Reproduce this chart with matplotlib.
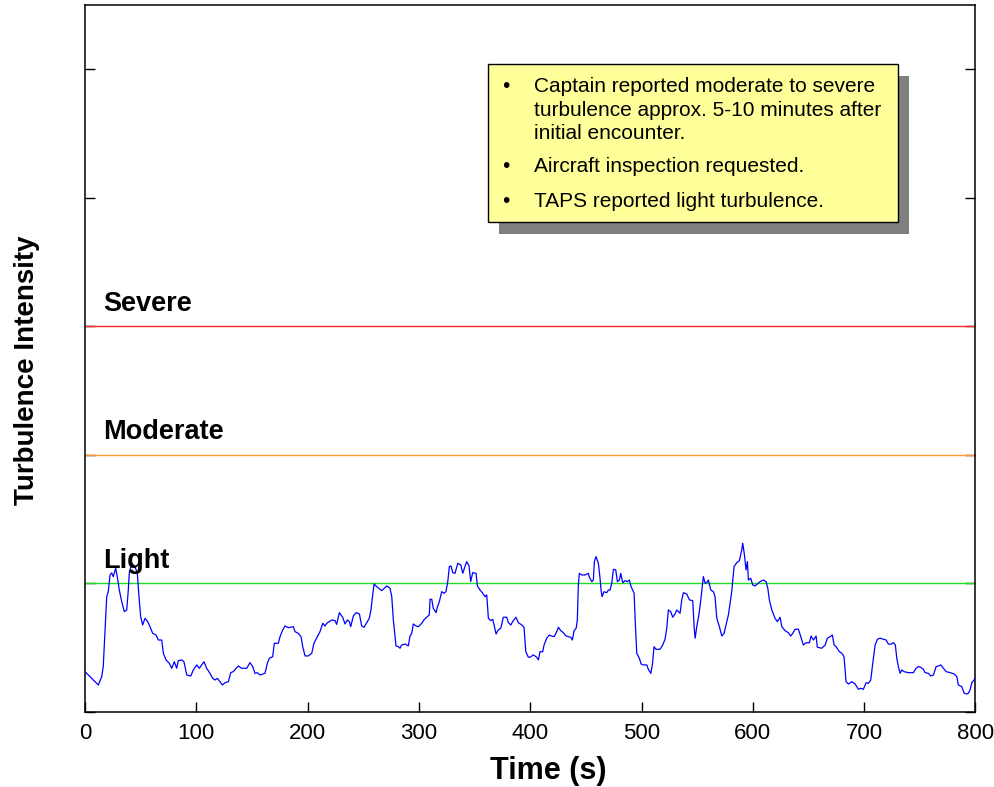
import matplotlib
matplotlib.use("Agg")
import matplotlib.pyplot as plt
import matplotlib.patches as mpatches
import numpy as np

plt.rcParams['font.family'] = ['Liberation Sans', 'DejaVu Sans']

# turbulence intensity trace (intensity scale: 1 = light, 2 = moderate, 3 = severe)
time_s = [
    0.0, 12.0, 15.0, 16.4, 18.0, 19.5, 20.9, 22.5, 24.0, 25.4,
    27.6, 29.0, 30.8, 33.0, 35.3, 37.5, 38.9, 39.8, 42.0, 44.9,
    47.0, 48.5, 50.0, 51.8, 53.9, 56.3, 58.4, 60.8, 63.8, 65.9,
    68.9, 70.4, 72.8, 75.7, 77.9, 80.2, 82.4, 83.8, 86.9, 88.9,
    91.4, 95.0, 97.3, 100.4, 102.7, 104.9, 106.9, 109.3, 112.3, 114.7,
    116.8, 118.9, 121.3, 123.4, 125.8,
    128.8, 130.9, 133.2, 137.7, 140.8, 145.3, 148.2, 150.7, 152.7, 154.8,
    157.2, 161.7, 163.8, 165.6, 168.6, 170.1, 173.7, 175.2, 177.6, 179.7,
    182.7, 187.2, 188.7, 191.6, 194.1, 195.6, 197.7, 200.6, 203.7, 205.7,
    208.7, 211.1, 213.6, 215.6, 217.2, 221.7, 224.6, 226.1, 228.5, 231.5,
    233.6, 235.7, 237.5, 238.7, 241.1, 243.5, 246.5, 248.6, 250.7, 253.1,
    255.4, 257.0, 258.1, 259.7, 262.1, 266.6, 271.1, 274.0,
    275.6, 277.0, 278.5, 279.4, 281.5, 283.0, 284.5, 287.5, 290.5, 292.0,
    293.5, 295.0, 297.4, 299.5, 302.5, 304.9, 307.0, 309.3, 310.0, 311.5,
    312.9, 315.4, 316.5, 318.3, 320.5, 322.6, 324.3, 325.9, 327.3, 328.8,
    330.4, 332.4, 334.9, 337.6, 339.4, 340.8, 342.9, 345.0, 346.5, 348.3,
    351.3, 352.5, 354.9, 357.3, 359.4, 360.9, 362.4, 364.5, 366.3, 367.5,
    369.3, 371.3, 373.5, 375.8, 378.9, 380.3, 382.5, 384.8, 387.2, 389.3,
    392.4, 394.4, 396.0, 398.3,
    399.8, 402.8, 405.8, 407.3, 408.8, 411.2, 412.4, 414.8, 417.2, 419.3,
    421.4, 423.8, 425.3, 427.4, 429.7, 432.2, 434.2, 436.4, 437.8, 439.4,
    441.2, 442.3, 443.2, 444.1, 446.3, 449.2, 452.2, 453.1, 455.3, 456.7,
    457.6, 459.1, 461.2, 462.7, 463.6, 464.5, 466.3, 468.7, 470.2, 471.7,
    473.2, 474.7, 476.8, 478.3, 480.1, 481.3, 483.1, 485.2, 487.2, 489.0,
    490.6, 493.3, 494.4, 495.7, 498.0, 499.6, 501.6, 504.7, 506.1, 508.3,
    509.7, 511.2, 513.0, 516.6, 519.0, 521.1, 522.6, 524.1, 526.2, 528.0,
    530.1, 531.6,
    534.6, 536.1, 537.6, 540.6, 543.0, 546.0, 547.2, 548.1, 549.6, 551.7,
    553.2, 555.5, 557.1, 558.6, 560.0, 562.2, 564.5, 566.0, 567.6, 569.9,
    572.1, 574.1, 575.9, 578.0, 581.0, 583.1, 585.5, 587.9, 590.0, 590.9,
    592.4, 593.9, 595.1, 596.0, 598.1, 599.9, 602.0, 604.0, 606.5, 609.4,
    611.9, 613.4, 614.8, 617.0, 619.9, 622.0, 624.4, 626.0, 628.9, 631.9,
    634.0, 635.8, 637.9, 640.9, 643.0, 645.4, 647.8, 650.8, 652.3, 654.4,
    656.8, 657.9, 661.9, 664.9, 666.9, 669.4, 671.4, 673.0, 674.8, 677.7,
    679.9, 681.9, 683.7, 685.8, 688.9, 691.8, 694.8, 696.9, 699.3, 701.7,
    703.8, 705.9, 707.7, 709.8, 711.9, 714.3, 717.3, 719.7, 721.7, 723.9,
    726.2, 728.0, 729.3, 730.7, 732.3, 733.8, 735.8, 739.7, 744.2, 746.6,
    748.7, 750.8, 753.2, 754.7, 757.7, 759.8, 762.2, 764.6, 766.7, 768.8,
    771.2, 773.6, 777.2, 780.8, 783.2, 784.6, 787.7, 789.8, 792.2, 793.6,
    795.1, 796.7, 798.7, 800.0,
]

intensity = [
    0.314, 0.210, 0.275, 0.353, 0.638, 0.897, 0.936, 1.066, 1.082, 1.053,
    1.118, 1.053, 0.949, 0.858, 0.781, 0.794, 0.949, 1.082, 1.157, 1.131,
    1.079, 0.897, 0.742, 0.677, 0.729, 0.703, 0.664, 0.612, 0.599, 0.560,
    0.560, 0.457, 0.405, 0.379, 0.340, 0.391, 0.340, 0.399, 0.405, 0.391,
    0.288, 0.280, 0.327, 0.366, 0.340, 0.366, 0.391, 0.340, 0.301, 0.262,
    0.249, 0.262, 0.236, 0.210, 0.228,
    0.236, 0.306, 0.314, 0.358, 0.340, 0.340, 0.384, 0.353, 0.301, 0.306,
    0.288, 0.301, 0.379, 0.418, 0.430, 0.535, 0.535, 0.586, 0.638, 0.669,
    0.656, 0.664, 0.625, 0.612, 0.586, 0.508, 0.436, 0.436, 0.457, 0.535,
    0.586, 0.625, 0.690, 0.669, 0.690, 0.716, 0.711, 0.682, 0.773, 0.737,
    0.685, 0.716, 0.703, 0.664, 0.747, 0.773, 0.763, 0.669, 0.659, 0.695,
    0.729, 0.799, 0.885, 0.996, 0.975, 0.944, 0.981, 0.963,
    0.897, 0.716, 0.586, 0.514, 0.508, 0.496, 0.521, 0.529, 0.514, 0.591,
    0.612, 0.685, 0.669, 0.664, 0.690, 0.721, 0.737, 0.755, 0.877, 0.877,
    0.807, 0.773, 0.815, 0.858, 0.936, 0.924, 0.936, 1.014, 1.131, 1.136,
    1.084, 1.079, 1.157, 1.144, 1.079, 1.118, 1.170, 1.136, 1.014, 1.084,
    1.079, 0.981, 0.949, 0.924, 0.897, 0.911, 0.729, 0.711, 0.721, 0.677,
    0.607, 0.638, 0.651, 0.737, 0.737, 0.695, 0.677, 0.711, 0.737, 0.695,
    0.677, 0.659, 0.469, 0.426,
    0.426, 0.444, 0.426, 0.405, 0.469, 0.469, 0.521, 0.574, 0.599, 0.591,
    0.586, 0.625, 0.659, 0.633, 0.617, 0.591, 0.586, 0.581, 0.560, 0.633,
    0.651, 0.716, 0.988, 1.079, 1.066, 1.066, 1.079, 1.048, 1.014, 1.027,
    1.170, 1.209, 1.157, 1.040, 0.949, 0.897, 0.936, 0.928, 0.949, 0.949,
    1.002, 1.110, 1.105, 1.014, 1.027, 1.079, 1.006, 1.022, 1.014, 1.027,
    0.975, 0.924, 0.690, 0.457, 0.418, 0.374, 0.366, 0.366, 0.332, 0.301,
    0.366, 0.508, 0.488, 0.488, 0.521, 0.566, 0.651, 0.794, 0.781, 0.737,
    0.763, 0.794,
    0.768, 0.872, 0.928, 0.918, 0.872, 0.866, 0.664, 0.574, 0.664, 0.768,
    0.872, 1.053, 1.002, 1.006, 1.027, 0.949, 0.936, 0.897, 0.729, 0.664,
    0.591, 0.612, 0.677, 0.755, 0.936, 1.131, 1.162, 1.177, 1.261, 1.313,
    1.222, 1.105, 1.170, 1.027, 1.040, 0.988, 0.981, 0.996, 1.014, 1.027,
    1.014, 0.963, 0.872, 0.794, 0.729, 0.703, 0.737, 0.664, 0.633, 0.617,
    0.591, 0.612, 0.644, 0.644, 0.586, 0.521, 0.539, 0.539, 0.591, 0.560,
    0.591, 0.504, 0.496, 0.521, 0.574, 0.586, 0.599, 0.521, 0.508, 0.469,
    0.457, 0.430, 0.236, 0.218, 0.236, 0.218, 0.177, 0.184, 0.177, 0.228,
    0.223, 0.249, 0.379, 0.521, 0.566, 0.574, 0.566, 0.560, 0.529, 0.527,
    0.539, 0.521, 0.418, 0.353, 0.301, 0.327, 0.314, 0.306, 0.306, 0.340,
    0.353, 0.348, 0.332, 0.306, 0.301, 0.280, 0.288, 0.353, 0.358, 0.366,
    0.340, 0.314, 0.306, 0.296, 0.275, 0.210, 0.197, 0.146, 0.140, 0.146,
    0.171, 0.228, 0.249, 0.275,
]

# threshold levels
level_names = ["Light", "Moderate", "Severe"]
level_values = [1, 2, 3]
level_colors = ["#22dd22", "#ff9933", "#ff2828"]

x_ticks = [0, 100, 200, 300, 400, 500, 600, 700, 800]

notes = [
    ["Captain reported moderate to severe",
     "turbulence approx. 5-10 minutes after",
     "initial encounter."],
    ["Aircraft inspection requested."],
    ["TAPS reported light turbulence."],
]

W, H = 995, 787
fig = plt.figure(figsize=(W / 100, H / 100), dpi=100)
ax = fig.add_axes([85 / W, 1 - 712 / H, 890.5 / W, 707 / H])

t = np.array(time_s)
v = np.array(intensity)

for name, lev, col in zip(level_names, level_values, level_colors):
    ax.axhline(lev, color=col, lw=1.0, zorder=2)
    ax.text(16.0, lev + 0.12, name, fontsize=19.5, fontweight='bold',
            ha='left', va='baseline', zorder=5)

ax.plot(t, v, color='#0000ff', lw=0.9, zorder=3)

ax.set_xlim(0, 800)
ax.set_ylim(0, 5.5)
ax.set_xticks(x_ticks)
ax.set_yticks([0, 1, 2, 3, 4, 5])
ax.set_yticklabels([])
ax.tick_params(axis='x', direction='in', length=7, width=1, labelsize=16, pad=8)
ax.tick_params(axis='y', direction='in', length=7, width=1, right=True)
for sp in ax.spines.values():
    sp.set_linewidth(1.1)

ax.set_xlabel("Time (s)", fontsize=22, fontweight='bold')
ax.xaxis.set_label_coords((548 - 85) / 890.5, -(756 - 712) / 707)
ax.set_ylabel("Turbulence Intensity", fontsize=20, fontweight='bold')
ax.yaxis.set_label_coords((40 - 85) / 890.5, (712 - 370) / 707)

# annotation box with drop shadow
bx0, by0, bx1, by1 = 488, 64, 898, 222
shadow = mpatches.Rectangle(((bx0 + 11) / W, 1 - (by1 + 12) / H),
                            (bx1 - bx0) / W, (by1 - by0) / H,
                            transform=fig.transFigure, facecolor='#808080',
                            edgecolor='none', zorder=10)
box = mpatches.Rectangle((bx0 / W, 1 - by1 / H), (bx1 - bx0) / W, (by1 - by0) / H,
                         transform=fig.transFigure, facecolor='#ffff99',
                         edgecolor='black', lw=1.0, zorder=11)
fig.patches.extend([shadow, box])

baselines = [[92, 116, 139], [172], [207]]
for lines, ys in zip(notes, baselines):
    fig.text(506 / W, 1 - ys[0] / H, u"\u2022", fontsize=15, ha='center',
             va='baseline', zorder=12)
    for line, y in zip(lines, ys):
        fig.text(534 / W, 1 - y / H, line, fontsize=15, ha='left',
                 va='baseline', zorder=12)

fig.savefig("out.png", dpi=100)
